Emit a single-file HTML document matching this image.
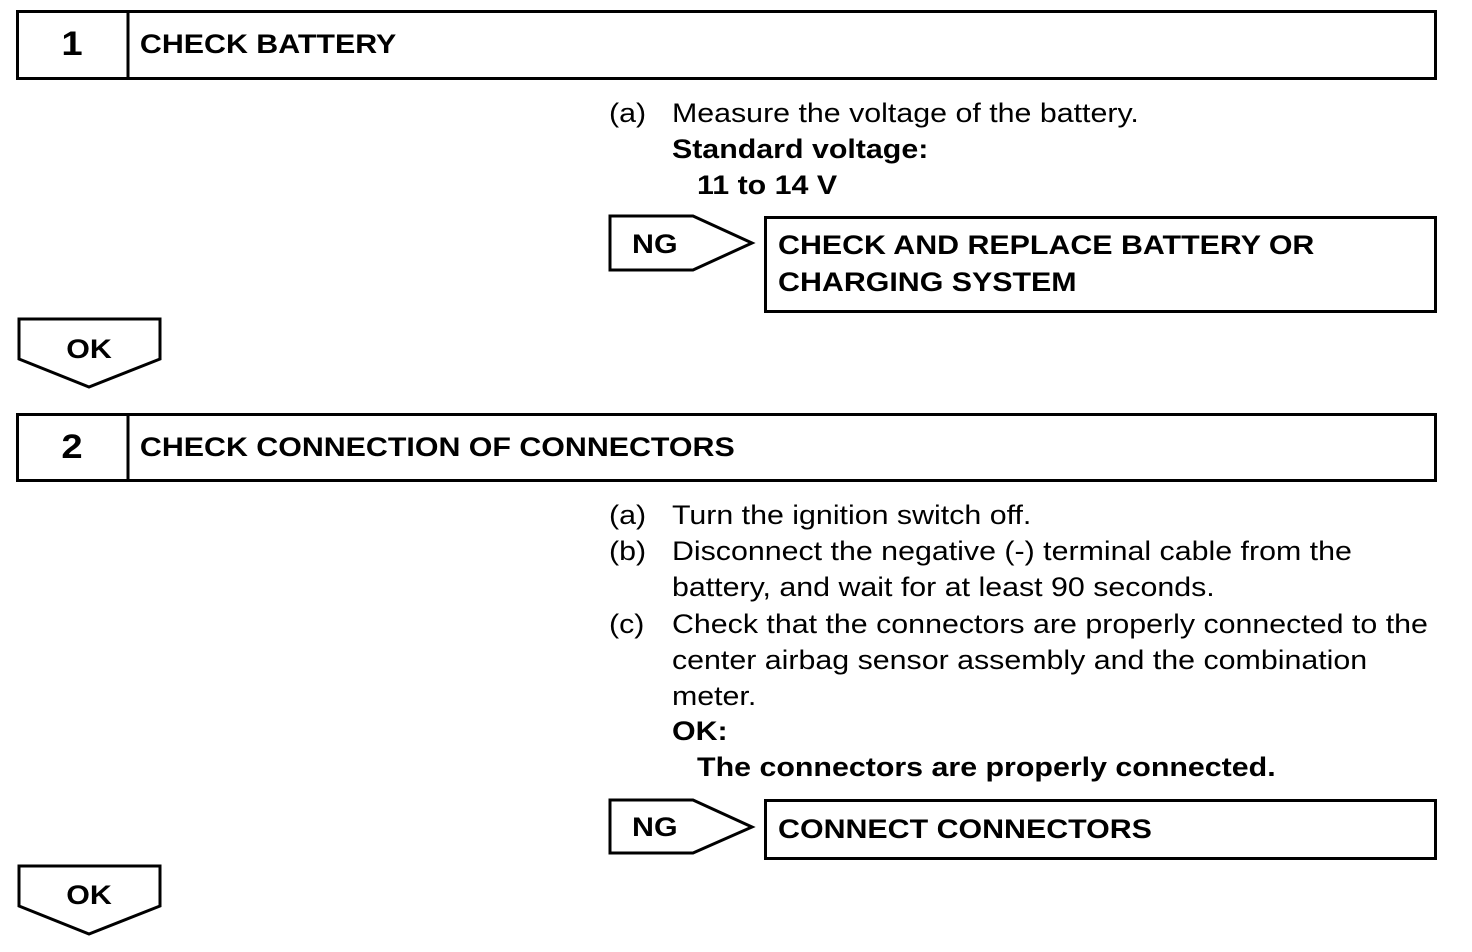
<!DOCTYPE html>
<html><head><style>body{margin:0;background:#fff}</style></head><body>
<svg width="1472" height="952" xmlns="http://www.w3.org/2000/svg" style="display:block">
<g fill="none" stroke="#000" stroke-width="3">
<rect x="17.5" y="11.5" width="1418" height="67"/>
<line x1="128" y1="11" x2="128" y2="79"/>
<rect x="17.5" y="414.5" width="1418" height="66"/>
<line x1="128" y1="414" x2="128" y2="481"/>
<polygon points="19,319 160,319 160,359 89,387 19,359"/>
<polygon points="19,866 160,866 160,906 89,934 19,906"/>
<polygon points="610,216 693,216 752,243 693,270 610,270"/>
<polygon points="610,800 693,800 752,827 693,853 610,853"/>
<rect x="765.5" y="217.5" width="670" height="94"/>
<rect x="765.5" y="800.5" width="670" height="58"/>
</g>
<g font-family="Liberation Sans, Arial, sans-serif" font-size="27" fill="#000" transform="translate(0,2) scale(1.125,1)">
<g font-weight="bold">
<text x="64" y="53" text-anchor="middle" font-size="34">1</text>
<text x="124.4" y="51">CHECK BATTERY</text>
<text x="64" y="456" text-anchor="middle" font-size="34">2</text>
<text x="124.4" y="454">CHECK CONNECTION OF CONNECTORS</text>
<text x="79.1" y="356" text-anchor="middle">OK</text>
<text x="79.1" y="902" text-anchor="middle">OK</text>
<text x="561.8" y="251">NG</text>
<text x="561.8" y="834">NG</text>
<text x="691.6" y="252">CHECK AND REPLACE BATTERY OR</text>
<text x="691.6" y="289">CHARGING SYSTEM</text>
<text x="691.6" y="836">CONNECT CONNECTORS</text>
<text x="597.3" y="156">Standard voltage:</text>
<text x="619.6" y="192">11 to 14 V</text>
<text x="597.3" y="738">OK:</text>
<text x="619.6" y="774">The connectors are properly connected.</text>
</g>
<text x="541.3" y="120">(a)</text><text x="597.3" y="120">Measure the voltage of the battery.</text>
<text x="541.3" y="522">(a)</text><text x="597.3" y="522">Turn the ignition switch off.</text>
<text x="541.3" y="558">(b)</text><text x="597.3" y="558">Disconnect the negative (-) terminal cable from the</text>
<text x="597.3" y="594">battery, and wait for at least 90 seconds.</text>
<text x="541.3" y="631">(c)</text><text x="597.3" y="631">Check that the connectors are properly connected to the</text>
<text x="597.3" y="667">center airbag sensor assembly and the combination</text>
<text x="597.3" y="703">meter.</text>
</g>
</svg>
</body></html>
